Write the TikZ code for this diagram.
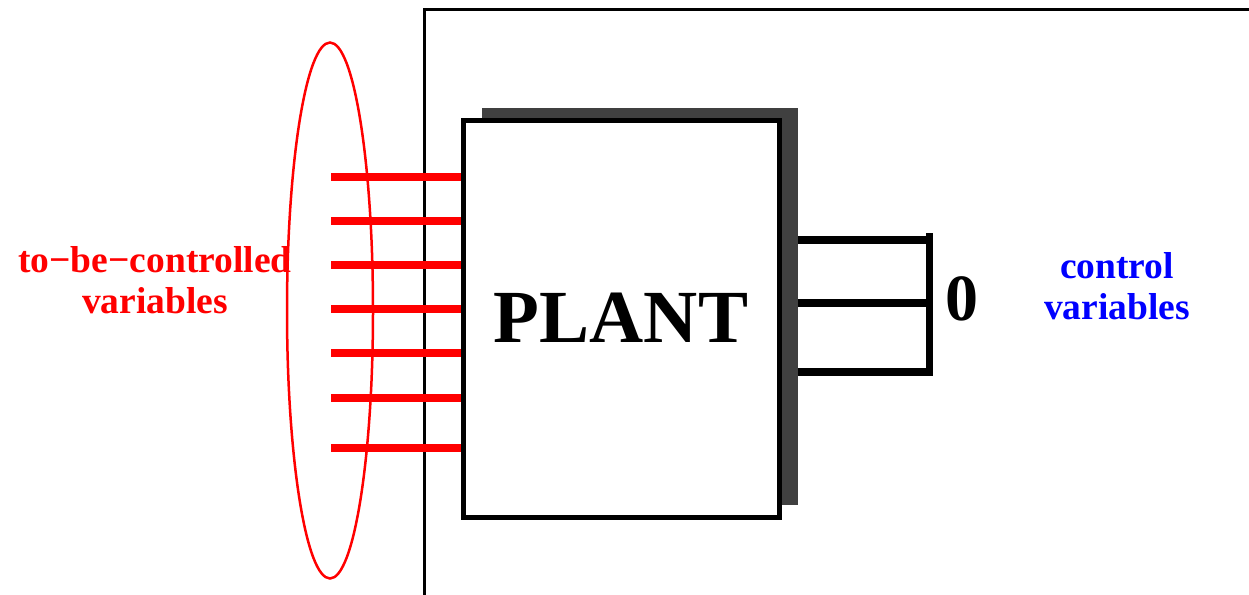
\documentclass[tikz,border=0pt]{standalone}
\usepackage{fontspec}
\setmainfont{Liberation Serif}
\definecolor{shadowgray}{HTML}{404040}
\definecolor{pred}{RGB}{255,0,0}
\definecolor{pblue}{RGB}{0,0,255}
\tikzset{
  redwire/.style={draw=pred, line width=8pt},
  blackwire/.style={draw=black, line width=7.5pt},
  lbl/.style={inner sep=0pt, align=center, font=\fontsize{37.5}{41}\selectfont\bfseries},
}
\begin{document}
\begin{tikzpicture}[x=1pt,y=-1pt]
\useasboundingbox (0,0) rectangle (1249,594);
\clip (0,0) rectangle (1249,594);
% outer frame
\draw[line width=3pt] (424,600) -- (424,10) -- (1260,10);
% shadow and plant
\node[fill=shadowgray, inner sep=0pt, minimum width=316pt, minimum height=397pt] (shadow) at (640,306.5) {};
\node[draw, line width=5pt, fill=white, inner sep=0pt, minimum width=316pt, minimum height=397pt,
      font=\fontsize{75}{80}\selectfont\bfseries] (plant) at (621,318.5) {\raisebox{2pt}{PLANT}};
% red wires
\foreach \i/\yy in {1/177,2/221,3/265,4/309,5/353,6/397.5,7/448}{
  \coordinate (r\i) at (331,\yy);
  \draw[redwire] (r\i) -- (plant.west |- r\i);
}
% ellipse
\draw[pred, line width=2.5pt] (330,310.5) ellipse [x radius=43, y radius=268];
% black wires
\coordinate (c1) at (933,240);
\coordinate (c2) at (933,303);
\coordinate (c3) at (933,372);
\foreach \i in {1,2,3}{
  \draw[blackwire] (shadow.east |- c\i) -- (c\i);
}
\coordinate (vt) at (929,233);
\coordinate (vb) at (929,376);
\draw[line width=7pt] (vt) -- (vb);
% labels
\node[inner sep=0pt, anchor=base, font=\fontsize{66}{70}\selectfont\bfseries] (zero) at (962,320) {0};
\node[lbl, text=pred, anchor=base] (tbc) at (155,313) {to−be−controlled\\variables};
\node[lbl, text=pblue, anchor=base] (cv) at (1117,319) {control\\variables};
\end{tikzpicture}
\end{document}
